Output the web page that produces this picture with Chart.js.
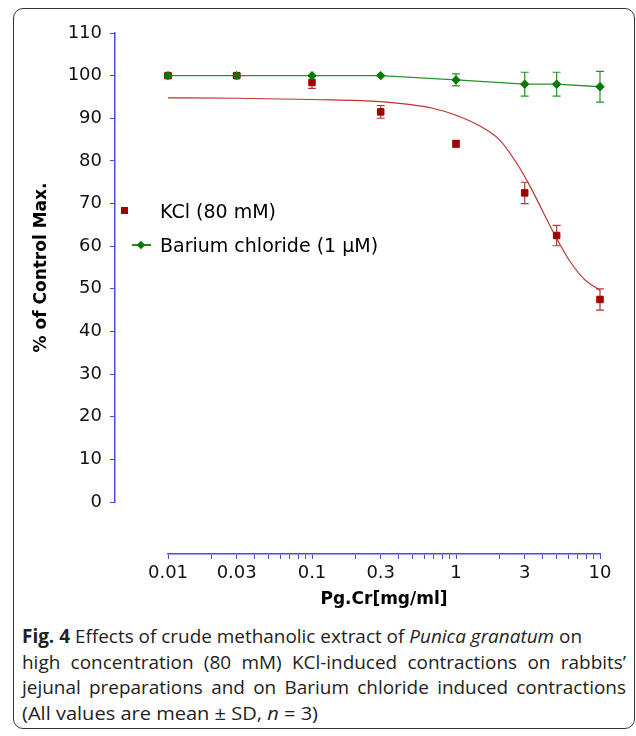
<!DOCTYPE html>
<html>
<head>
<meta charset="utf-8">
<script src="https://cdn.jsdelivr.net/npm/chart.js@4.4.1/dist/chart.umd.min.js"></script>
<style>
  html, body { margin: 0; padding: 0; background: #fff; }
  body { width: 636px; height: 736px; position: relative; overflow: hidden; }
  #frame { position: absolute; left: 13px; top: 8px; width: 622px; height: 721px;
           border: 1.5px solid #333; border-radius: 10px; box-sizing: border-box; }
  #chart { position: absolute; left: 0; top: 0; }
  .leg { position: absolute; left: 160px; font-family: "DejaVu Sans", sans-serif; font-size: 19px;
         color: #000; line-height: 22px; white-space: nowrap; }
  .sq { position: absolute; width: 7px; height: 7px; background: #a00000; }
  .ln { position: absolute; width: 19px; height: 1.5px; background: #1f8a1f; }
  .dm { position: absolute; width: 6px; height: 6px; background: #007a00; transform: rotate(45deg); }
  #caption { position: absolute; left: 22px; top: 624px; width: 604px;
             font-family: "Open Sans", sans-serif;
             font-size: 19px; line-height: 25.7px; color: #222; }
  #caption .cl { white-space: nowrap; transform-origin: 0 0; }
  #caption .j { text-align: justify; text-align-last: justify; white-space: normal; }
</style>
</head>
<body>
<div id="frame"></div>
<canvas id="chart" width="636" height="620"></canvas>
<div class="sq" style="left:121px; top:207px;"></div>
<div class="leg" style="top:200px;">KCl (80 mM)</div>
<div class="ln" style="left:132px; top:244px;"></div>
<div class="dm" style="left:138px; top:242px;"></div>
<div class="leg" style="top:234px;">Barium chloride (1 μM)</div>
<div id="caption">
  <div class="cl"><span id="c1"><b>Fig. 4</b> Effects of crude methanolic extract of <i>Punica granatum</i> on</span></div>
  <div class="cl j">high concentration (80 mM) KCl-induced contractions on rabbits’</div>
  <div class="cl j">jejunal preparations and on Barium chloride induced contractions</div>
  <div class="cl" id="l4"><span id="c4">(All values are mean ± SD, <i>n</i> = 3)</span></div>
</div>
<script>
// ---- data ----
const concentrations = [0.01, 0.03, 0.1, 0.3, 1, 3, 5, 10];          // mg/ml
const kclMean    = [100, 100, 98.4, 91.5, 84.0, 72.5, 62.5, 47.5];
const kclSD      = [0.5, 0.5, 1.4, 1.5, 0.8, 2.5, 2.4, 2.5];
const bariumMean = [100, 100, 100, 100, 99.0, 98.0, 98.0, 97.4];
const bariumSD   = [0, 0, 0, 0, 1.4, 2.8, 2.8, 3.6];
// fitted KCl curve
const kclFitX = [0.01, 0.03, 0.1, 0.3, 0.7, 1, 1.5, 2, 2.6, 3.3, 4, 5, 6.2, 7.7, 10];
const kclFitY = [94.8, 94.7, 94.4, 93.9, 92.3, 90.7, 88.0, 85.0, 79.8, 73.8, 68.2, 61.8, 56.4, 52.4, 49.6];
// axis ticks
const xTickValues = [0.01,0.02,0.03,0.04,0.05,0.06,0.07,0.08,0.09,
                     0.1,0.2,0.3,0.4,0.5,0.6,0.7,0.8,0.9,
                     1,2,3,4,5,6,7,8,9,10];
const xTickLabels = ['0.01','0.03','0.1','0.3','1','3','10'];
const yTickValues = [0,10,20,30,40,50,60,70,80,90,100,110];

// caption: condense the humanist font to the figure's narrow caption width
(function () {
  const k = 560 / document.getElementById('c1').getBoundingClientRect().width;
  document.querySelectorAll('#caption .cl').forEach(el => {
    el.style.transform = 'scaleX(' + k + ')';
    if (el.classList.contains('j')) el.style.width = (604 / k) + 'px';
  });
  const k4 = 296 / document.getElementById('c4').getBoundingClientRect().width * k;
  document.getElementById('l4').style.transform = 'scaleX(' + k4 + ')';
})();

const axisBlue = '#4b4be0';
const tickFont = { family: 'DejaVu Sans', size: 18 };
const titleFont = { family: 'DejaVu Sans', size: 17, weight: 'bold' };

const toXY = (xs, ys) => xs.map((v, i) => ({ x: v, y: ys[i] }));

const errorBars = {
  id: 'errorBars',
  beforeDatasetsDraw(chart) {
    const { ctx } = chart;
    const xs = chart.scales.x, ys = chart.scales.y;
    chart.data.datasets.forEach(ds => {
      if (!ds.errors) return;
      ctx.save();
      ctx.strokeStyle = ds.errorColor;
      ctx.lineWidth = 1.2;
      ds.data.forEach((p, j) => {
        const e = ds.errors[j];
        if (!e) return;
        const px = xs.getPixelForValue(p.x);
        const t = ys.getPixelForValue(p.y + e);
        const b = ys.getPixelForValue(p.y - e);
        ctx.beginPath();
        ctx.moveTo(px, t); ctx.lineTo(px, b);
        ctx.moveTo(px - 4, t); ctx.lineTo(px + 4, t);
        ctx.moveTo(px - 4, b); ctx.lineTo(px + 4, b);
        ctx.stroke();
      });
      ctx.restore();
    });
  }
};

new Chart(document.getElementById('chart'), {
  type: 'scatter',
  data: {
    datasets: [
      {
        label: 'Barium chloride (1 μM)',
        data: toXY(concentrations, bariumMean),
        errors: bariumSD, errorColor: '#2a8f2a',
        showLine: true, borderColor: '#2a922a', borderWidth: 1.4,
        pointStyle: 'rectRot', pointRadius: 4.2, pointBackgroundColor: '#007a00',
        pointBorderColor: '#007a00', pointBorderWidth: 1,
        clip: false, order: 0
      },
      {
        label: 'KCl (80 mM)',
        data: toXY(concentrations, kclMean),
        errors: kclSD, errorColor: '#b53a3a',
        showLine: false,
        pointStyle: 'rect', pointRadius: 4.6, pointBackgroundColor: '#a00000',
        pointBorderColor: '#a00000', pointBorderWidth: 1,
        clip: false, order: 1
      },
      {
        label: 'KCl fit',
        data: toXY(kclFitX, kclFitY),
        showLine: true, borderColor: '#bb3535', borderWidth: 1.2,
        cubicInterpolationMode: 'monotone',
        pointRadius: 0, clip: false, order: 2
      }
    ]
  },
  options: {
    responsive: false,
    animation: false,
    devicePixelRatio: 1,
    layout: { padding: { left: 0, top: 33, right: 36, bottom: 0 } },
    plugins: { legend: { display: false }, tooltip: { enabled: false } },
    scales: {
      x: {
        type: 'logarithmic', position: 'bottom', weight: 1,
        min: 0.01, max: 10,
        afterBuildTicks: s => { s.ticks = xTickValues.map(v => ({ value: v })); },
        afterFit: s => { s.height = 66; },
        ticks: {
          autoSkip: false, maxRotation: 0, minRotation: 0, padding: 4,
          font: tickFont, color: '#111',
          callback: v => { const l = xTickLabels.find(t => Math.abs(parseFloat(t) - v) < 1e-9); return l || ''; }
        },
        grid: { drawOnChartArea: false, drawTicks: true, tickLength: 5, color: axisBlue, lineWidth: 1 },
        border: { display: true, color: axisBlue, width: 1.5 },
        title: { display: true, text: 'Pg.Cr[mg/ml]', font: titleFont, color: '#000', padding: { top: 0, bottom: 10 } }
      },
      xPad: {
        type: 'linear', position: 'bottom', weight: 0,
        afterFit: s => { s.height = 52; },
        ticks: { display: false }, grid: { display: false }, border: { display: false }
      },
      y: {
        type: 'linear', position: 'left', weight: 1,
        min: 0, max: 110,
        afterBuildTicks: s => { s.ticks = yTickValues.map(v => ({ value: v })); },
        afterFit: s => { s.width = 115; },
        ticks: { padding: 8, font: tickFont, color: '#111' },
        grid: { drawOnChartArea: false, drawTicks: true, tickLength: 5, color: axisBlue, lineWidth: 1 },
        border: { display: true, color: axisBlue, width: 1.5 },
        title: { display: true, text: '% of Control Max.', font: titleFont, color: '#000', padding: { top: 31, bottom: 0 } }
      },
      yPad: {
        type: 'linear', position: 'left', weight: 0,
        afterFit: s => { s.width = 53; },
        ticks: { display: false }, grid: { display: false }, border: { display: false }
      }
    }
  },
  plugins: [errorBars]
});
</script>
</body>
</html>
